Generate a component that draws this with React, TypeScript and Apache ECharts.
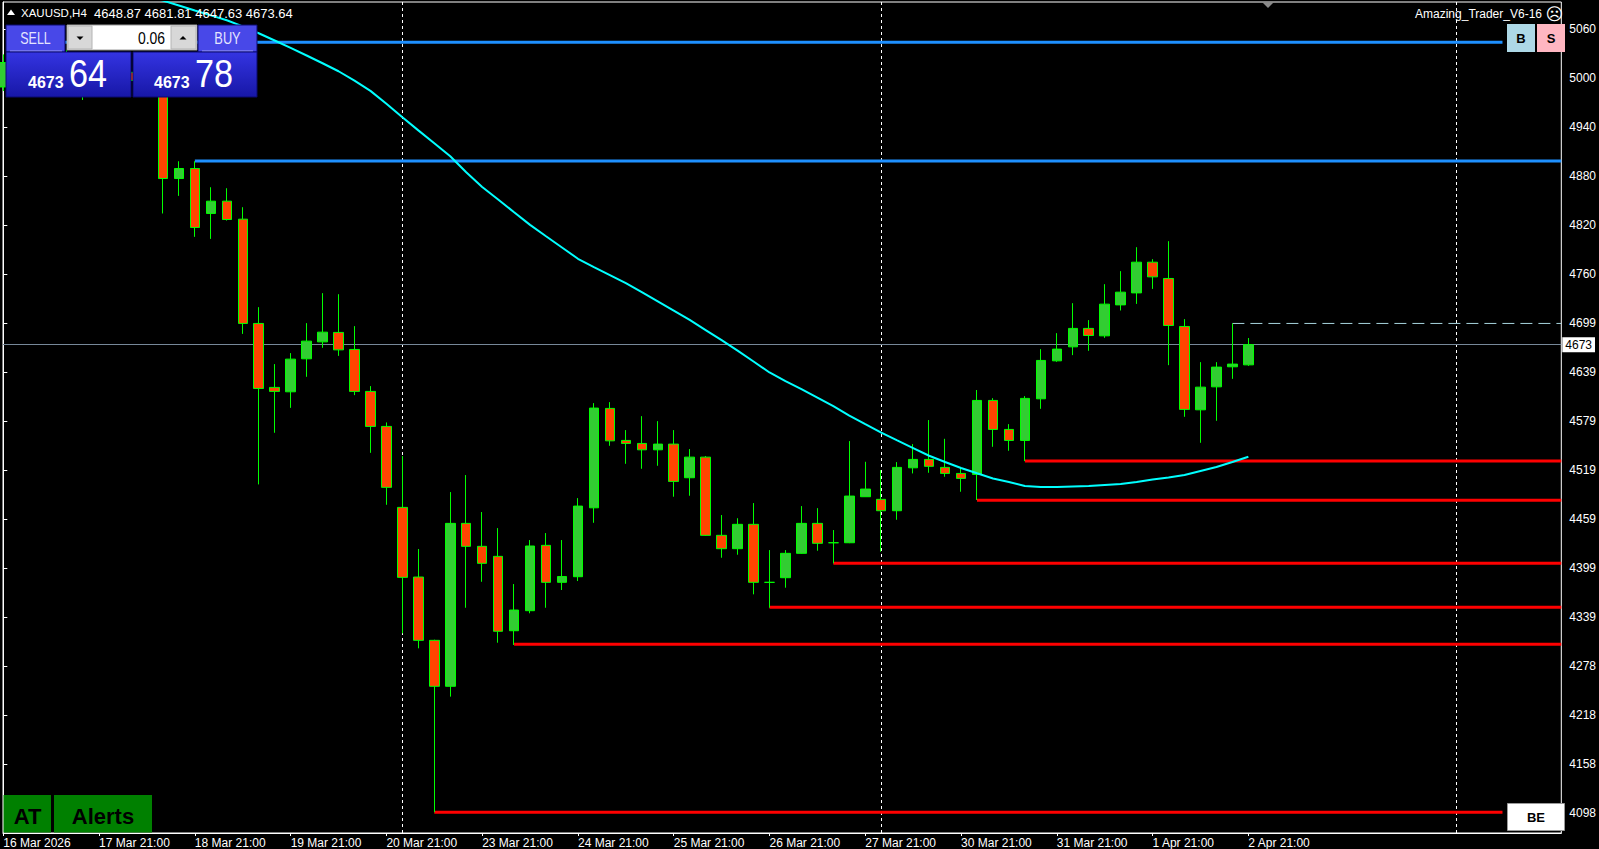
import React, { useEffect, useRef } from "react";
import * as echarts from "echarts";

// ---------- DATA (XAUUSD H4) ----------
const opens = [
  4990, 5018, 5030, 5045, 5022, 5000, 4992, 5012, 5008, 4998,
  4988, 4877.6, 4889.9, 4834.7, 4849.8, 4827.7, 4699.7, 4621.2, 4615.8, 4656.3,
  4677.1, 4688.7, 4667.8, 4616.3, 4573.3, 4473.9, 4388.4, 4310.7, 4254.3, 4454.3,
  4426.1, 4413.8, 4322.5, 4347.1, 4427.3, 4381.9, 4388.8, 4473.4, 4595.4, 4556.1,
  4552.4, 4544.6, 4551.6, 4510.3, 4535.6, 4439.6, 4423.2, 4453.1, 4381.9, 4387.6,
  4417.5, 4454.3, 4430.5, 4430.5, 4487.0, 4483.8, 4469.8, 4522.5, 4532.8, 4523.0,
  4515.6, 4514.4, 4605.2, 4569.6, 4556.1, 4607.2, 4653.8, 4671.0, 4693.6, 4684.5,
  4722.5, 4737.2, 4774.9, 4754.9, 4696.0, 4593.7, 4621.9, 4646.5, 4648.87,
];
const highs = [
  5030, 5040, 5044.9, 5058, 5035, 5012, 5020, 5030, 5025, 5010,
  4998, 4898.8, 4898.8, 4866.9, 4865.7, 4842.4, 4719.7, 4649.8, 4663.3, 4700.1,
  4736.9, 4735.6, 4696.4, 4622.8, 4578.2, 4536.9, 4422.8, 4311.5, 4492.7, 4513.6,
  4468.2, 4448.5, 4379.8, 4433.8, 4442.4, 4433.8, 4485.3, 4601.9, 4603.1, 4568.8,
  4585.9, 4579.8, 4568.8, 4545.5, 4536.9, 4464.5, 4460.6, 4479.2, 4421.5, 4421.5,
  4475.5, 4473.0, 4446.1, 4555.3, 4529.9, 4519.7, 4529.5, 4551.6, 4581.1, 4558.1,
  4523.0, 4618.0, 4608.0, 4576.1, 4610.5, 4668.2, 4687.8, 4724.6, 4703.8, 4747.9,
  4763.9, 4793.3, 4778.6, 4800.7, 4705.0, 4652.2, 4652.2, 4699.7, 4681.81,
];
const lows = [
  4985, 5005, 5020, 5015, 4995, 4974, 4985, 5000, 4990, 4982,
  4834.7, 4856.3, 4806.0, 4803.5, 4826.0, 4686.9, 4502.1, 4565.5, 4596.1, 4634.2,
  4669.8, 4659.9, 4611.7, 4540.9, 4477.1, 4319.3, 4300.9, 4099.7, 4241.6, 4350.7,
  4382.6, 4307.8, 4305.0, 4343.9, 4350.7, 4372.5, 4383.5, 4455.0, 4549.5, 4527.4,
  4521.3, 4525.0, 4487.0, 4488.2, 4439.0, 4412.1, 4415.8, 4367.2, 4350.7, 4375.3,
  4417.0, 4420.7, 4405.2, 4430.0, 4487.0, 4419.5, 4458.7, 4515.6, 4516.4, 4511.5,
  4493.1, 4482.9, 4548.3, 4543.4, 4530.7, 4594.9, 4652.6, 4660.8, 4666.1, 4682.0,
  4715.6, 4723.7, 4742.1, 4648.5, 4585.1, 4553.2, 4580.2, 4631.7, 4647.63,
];
const closes = [
  5020, 5030, 5045, 5022, 5000, 4992, 5012, 5008, 4998, 4988,
  4877.6, 4889.9, 4817.5, 4849.8, 4827.3, 4699.7, 4619.9, 4616.3, 4655.9, 4678.0,
  4689.0, 4667.3, 4616.3, 4573.3, 4498.5, 4388.0, 4310.7, 4254.3, 4454.3, 4426.1,
  4405.2, 4321.8, 4347.9, 4426.5, 4381.9, 4389.0, 4475.5, 4595.8, 4555.6, 4552.4,
  4544.6, 4551.6, 4505.8, 4535.6, 4439.6, 4423.2, 4453.1, 4381.9, 4381.9, 4417.5,
  4454.3, 4429.8, 4430.5, 4487.8, 4496.4, 4469.8, 4523.0, 4532.8, 4524.3, 4515.6,
  4509.5, 4605.2, 4569.6, 4556.1, 4607.7, 4654.3, 4668.2, 4693.6, 4684.9, 4723.4,
  4738.1, 4774.9, 4756.9, 4697.2, 4594.2, 4621.5, 4646.1, 4649.8, 4673.64,
];

// moving average (cyan), starting at bar maStart
const maStart = 9;
const maValues = [
  5101.6, 5096.0, 5090.0, 5083.9, 5077.9, 5071.9, 5064.4, 5055.9, 5047.0, 5037.9,
  5028.6, 5019.1, 5009.3, 4997.8, 4985.2, 4969.4, 4952.8, 4936.7, 4921.0, 4904.9,
  4885.3, 4867.2, 4851.8, 4836.2, 4820.7, 4806.8, 4793.0, 4779.1, 4768.8, 4759.0,
  4749.1, 4738.2, 4726.8, 4715.4, 4704.0, 4691.6, 4679.2, 4666.4, 4653.0, 4639.5,
  4628.8, 4619.0, 4608.7, 4598.1, 4586.5, 4576.0, 4565.6, 4556.1, 4546.7, 4537.3,
  4529.6, 4522.3, 4515.8, 4509.4, 4505.1, 4500.2, 4499.0, 4499.0, 4499.6, 4500.2,
  4501.4, 4502.6, 4505.1, 4508.1, 4510.6, 4513.7, 4518.6, 4523.5, 4529.6, 4536.1,
];

// time axis
const xTickIndex = [0, 6, 12, 18, 24, 30, 36, 42, 48, 54, 60, 66, 72, 78];
const xTickLabels = [
  "16 Mar 2026", "17 Mar 21:00", "18 Mar 21:00", "19 Mar 21:00", "20 Mar 21:00",
  "23 Mar 21:00", "24 Mar 21:00", "25 Mar 21:00", "26 Mar 21:00", "27 Mar 21:00",
  "30 Mar 21:00", "31 Mar 21:00", "1 Apr 21:00", "2 Apr 21:00",
];
const weekSeparators = [25, 55, 91];

// price axis
const yTickValues = [
  4098.4, 4158.55, 4218.7, 4278.85, 4339.0, 4399.15, 4459.3, 4519.45, 4579.6,
  4639.75, 4699.9, 4760.05, 4820.2, 4880.35, 4940.5, 5000.65, 5060.8,
];
const yTickLabels = [
  "4098", "4158", "4218", "4278", "4339", "4399", "4459", "4519", "4579",
  "4639", "4699", "4760", "4820", "4880", "4940", "5000", "5060",
];

// horizontal levels
const redLevels = [4530.9, 4482.6, 4405.3, 4351.3, 4305.8, 4099.6];
const redStarts = [64, 61, 52, 48, 32, 27];
const blueLevels = [5044.9, 4899.1];
const blueStarts = [2, 12];
const prevHighLevel = 4699.7;
const prevHighStart = 77;
const bidPrice = 4673.64;
const bidLabel = "4673";

// ---------- LAYOUT ----------
const X_MIN = -0.02;
const X_MAX = 97.605;
const X_BUTTON = 93.92;
const Y_MIN = 4074.2;
const Y_MAX = 5094.3;

const FONT = '"Liberation Sans", Arial, sans-serif';

function hLine(start: number, end: number, level: number, color: string, width: number, type: any = "solid") {
  return {
    type: "line",
    data: [
      [start, level],
      [end, level],
    ],
    symbol: "none",
    showSymbol: false,
    lineStyle: { color, width, type },
    silent: true,
    z: 1,
  };
}

function buildOption() {
  const candleData = opens.map((o, k) => [k, o, closes[k], lows[k], highs[k]]);
  const maData = maValues.map((v, i) => [maStart + i, v]);

  const series: any[] = [];
  redLevels.forEach((lv, i) => {
    const end = i === redLevels.length - 1 ? X_BUTTON : X_MAX;
    series.push(hLine(redStarts[i], end, lv, "#ff0000", 3));
  });
  blueLevels.forEach((lv, i) => {
    const end = i === 0 ? X_BUTTON : X_MAX;
    series.push(hLine(blueStarts[i], end, lv, "#1e90ff", 3));
  });
  series.push(hLine(prevHighStart, X_MAX, prevHighLevel, "#a6d4de", 1, [12, 6]));

  series.push({
    type: "line",
    data: [[78, bidPrice]],
    symbol: "none",
    showSymbol: false,
    lineStyle: { opacity: 0 },
    clip: false,
    silent: true,
    z: 1,
    markLine: {
      silent: true,
      z: 1,
      symbol: ["none", "none"],
      animation: false,
      data: [
        ...weekSeparators.map((w) => ({
          xAxis: w,
          lineStyle: { color: "#ffffff", type: [3, 3], width: 1 },
          label: { show: false },
        })),
        {
          yAxis: bidPrice,
          lineStyle: { color: "#778899", type: "solid", width: 1 },
          label: {
            show: true,
            position: "end",
            formatter: bidLabel,
            color: "#000",
            backgroundColor: "#fff",
            padding: [2, 3, 1, 3],
            fontSize: 12,
            fontFamily: FONT,
            distance: 1,
          },
        },
      ],
    },
  });

  series.push({
    type: "candlestick",
    data: candleData,
    barWidth: 10,
    itemStyle: {
      color: "#32cd32",
      color0: "#ff4500",
      borderColor: "#00ff00",
      borderColor0: "#00ff00",
      borderColorDoji: "#00ff00",
      borderWidth: 1,
    },
    silent: true,
    z: 3,
  });

  series.push({
    type: "line",
    data: maData,
    symbol: "none",
    showSymbol: false,
    lineStyle: { color: "#00ffff", width: 2 },
    silent: true,
    z: 4,
  });

  const priceGrad = new echarts.graphic.LinearGradient(0, 0, 0, 1, [
    { offset: 0, color: "#3434e2" },
    { offset: 1, color: "#1717a6" },
  ]);
  const priceGrad2 = new echarts.graphic.LinearGradient(0, 0, 0, 1, [
    { offset: 0, color: "#3434e2" },
    { offset: 1, color: "#1717a6" },
  ]);

  const Z = 100;
  const narrowText = (text: string, x: number, y: number, font: string, sx: number, align: string, fill = "#fff") => ({
    type: "text",
    z: Z,
    x,
    y,
    scaleX: sx,
    style: { text, x: 0, y: 0, fill, font, align, verticalAlign: "middle" },
  });

  const graphics: any[] = [
    // header
    { type: "polygon", z: Z, shape: { points: [[7, 15], [15, 15], [11, 9.5]] }, style: { fill: "#fff" } },
    { type: "text", z: Z, style: { text: "XAUUSD,H4", x: 21, y: 13, fill: "#fff", font: `11.5px ${FONT}`, verticalAlign: "middle" } },
    { type: "text", z: Z, style: { text: "4648.87 4681.81 4647.63 4673.64", x: 94, y: 13, fill: "#fff", font: `13px ${FONT}`, verticalAlign: "middle" } },
    // chart shift marker
    { type: "polygon", z: Z, shape: { points: [[1262, 2], [1274, 2], [1268, 8]] }, style: { fill: "#8a8a8a" } },
    // top-right label
    { type: "text", z: Z, style: { text: "Amazing_Trader_V6-16", x: 1542, y: 14, fill: "#fff", font: `12px ${FONT}`, align: "right", verticalAlign: "middle" } },
    { type: "text", z: Z, style: { text: "☹", x: 1554.5, y: 14, fill: "#fff", font: '17px "DejaVu Sans"', align: "center", verticalAlign: "middle" } },
    // B / S buttons
    { type: "rect", z: Z, shape: { x: 1507, y: 24, width: 28, height: 28 }, style: { fill: "#add8e6" } },
    { type: "text", z: Z, style: { text: "B", x: 1521, y: 38.5, fill: "#000", font: `bold 13px ${FONT}`, align: "center", verticalAlign: "middle" } },
    { type: "rect", z: Z, shape: { x: 1537, y: 24, width: 28, height: 28 }, style: { fill: "#ffb6c1" } },
    { type: "text", z: Z, style: { text: "S", x: 1551, y: 38.5, fill: "#000", font: `bold 13px ${FONT}`, align: "center", verticalAlign: "middle" } },
    // BE box
    { type: "rect", z: Z, shape: { x: 1507.5, y: 803.5, width: 57, height: 27 }, style: { fill: "#fff", stroke: "#9a9a9a", lineWidth: 1 } },
    { type: "text", z: Z, style: { text: "BE", x: 1536, y: 817.5, fill: "#000", font: `bold 13px ${FONT}`, align: "center", verticalAlign: "middle" } },
    // AT / Alerts
    { type: "rect", z: Z, shape: { x: 3.5, y: 795, width: 47.5, height: 37.5 }, style: { fill: "#008000" } },
    { type: "text", z: Z, style: { text: "AT", x: 27.5, y: 816, fill: "#000", font: `bold 22px ${FONT}`, align: "center", verticalAlign: "middle" } },
    { type: "rect", z: Z, shape: { x: 54, y: 795, width: 98, height: 37.5 }, style: { fill: "#008000" } },
    { type: "text", z: Z, style: { text: "Alerts", x: 103, y: 816, fill: "#000", font: `bold 22px ${FONT}`, align: "center", verticalAlign: "middle" } },
    // trade panel: SELL button
    { type: "rect", z: Z, shape: { x: 6, y: 25, width: 59, height: 27 }, style: { fill: "#4848e8", stroke: "#0a0a70", lineWidth: 1 } },
    narrowText("SELL", 35.5, 38.5, `16px ${FONT}`, 0.78, "center", "#e4e4ff"),
    { type: "line", z: Z, shape: { x1: 10, y1: 51, x2: 62, y2: 51 }, style: { stroke: "#a0a0f5", lineWidth: 1 } },
    // lot box
    { type: "rect", z: Z, shape: { x: 67, y: 25, width: 130, height: 25 }, style: { fill: "#ffffff", stroke: "#9c9c9c", lineWidth: 1 } },
    { type: "rect", z: Z, shape: { x: 68, y: 26, width: 24, height: 23 }, style: { fill: "#d8d8d8", stroke: "#b4b4b4", lineWidth: 1 } },
    { type: "polygon", z: Z, shape: { points: [[76.5, 36.5], [83.5, 36.5], [80, 40]] }, style: { fill: "#000" } },
    { type: "rect", z: Z, shape: { x: 171, y: 26, width: 25, height: 23 }, style: { fill: "#d8d8d8", stroke: "#b4b4b4", lineWidth: 1 } },
    { type: "polygon", z: Z, shape: { points: [[179.5, 39.5], [186.5, 39.5], [183, 36]] }, style: { fill: "#000" } },
    narrowText("0.06", 165, 38, `16px ${FONT}`, 0.87, "right", "#000"),
    // BUY button
    { type: "rect", z: Z, shape: { x: 198, y: 25, width: 59, height: 27 }, style: { fill: "#4848e8", stroke: "#0a0a70", lineWidth: 1 } },
    narrowText("BUY", 227.5, 38.5, `16px ${FONT}`, 0.8, "center", "#e4e4ff"),
    { type: "line", z: Z, shape: { x1: 202, y1: 51, x2: 253, y2: 51 }, style: { stroke: "#a0a0f5", lineWidth: 1 } },
    // price boxes
    { type: "rect", z: Z, shape: { x: 6, y: 52, width: 125, height: 45 }, style: { fill: priceGrad, stroke: "#0a0a70", lineWidth: 1 } },
    { type: "rect", z: Z, shape: { x: 133, y: 52, width: 124, height: 45 }, style: { fill: priceGrad2, stroke: "#0a0a70", lineWidth: 1 } },
    { type: "text", z: Z, style: { text: "4673", x: 28, y: 82, fill: "#fff", font: `bold 16px ${FONT}`, verticalAlign: "middle" } },
    narrowText("64", 69, 74, `38px ${FONT}`, 0.9, "left"),
    { type: "text", z: Z, style: { text: "4673", x: 154, y: 82, fill: "#fff", font: `bold 16px ${FONT}`, verticalAlign: "middle" } },
    narrowText("78", 195, 74, `38px ${FONT}`, 0.9, "left"),
  ];

  return {
    animation: false,
    backgroundColor: "#000",
    textStyle: { fontFamily: FONT },
    grid: {
      left: 3,
      right: 34,
      top: 2,
      bottom: 16,
      show: true,
      borderColor: "#ffffff",
      borderWidth: 1,
      backgroundColor: "transparent",
    },
    xAxis: {
      type: "value",
      min: X_MIN,
      max: X_MAX,
      axisLine: { show: true, lineStyle: { color: "#fff", width: 1 } },
      axisTick: { show: true, length: 3, lineStyle: { color: "#fff" }, customValues: xTickIndex },
      axisLabel: {
        show: true,
        customValues: xTickIndex,
        formatter: (v: number) => {
          const i = xTickIndex.indexOf(Math.round(v));
          return i >= 0 ? xTickLabels[i] : "";
        },
        color: "#fff",
        fontSize: 12,
        lineHeight: 12,
        fontFamily: FONT,
        align: "left",
        margin: 4,
      },
      splitLine: { show: false },
    },
    yAxis: {
      type: "value",
      position: "right",
      min: Y_MIN,
      max: Y_MAX,
      axisLine: { show: true, lineStyle: { color: "#fff", width: 1 } },
      axisTick: { show: true, length: 4, lineStyle: { color: "#fff" }, customValues: yTickValues },
      axisLabel: {
        show: true,
        customValues: yTickValues,
        formatter: (v: number) => {
          let best = 0;
          yTickValues.forEach((t, i) => {
            if (Math.abs(t - v) < Math.abs(yTickValues[best] - v)) best = i;
          });
          return yTickLabels[best];
        },
        color: "#fff",
        fontSize: 12,
        fontFamily: FONT,
        margin: 8,
        align: "left",
      },
      splitLine: { show: false },
    },
    series,
    graphic: { elements: graphics },
  };
}

export default function App() {
  const ref = useRef<HTMLDivElement>(null);
  useEffect(() => {
    if (!ref.current) return;
    const chart = echarts.init(ref.current, null, { renderer: "svg" });
    chart.setOption(buildOption() as any);
    return () => chart.dispose();
  }, []);
  return (
    <div
      ref={ref}
      style={{ position: "fixed", left: 0, top: 0, width: 1599, height: 849, background: "#000" }}
    />
  );
}
